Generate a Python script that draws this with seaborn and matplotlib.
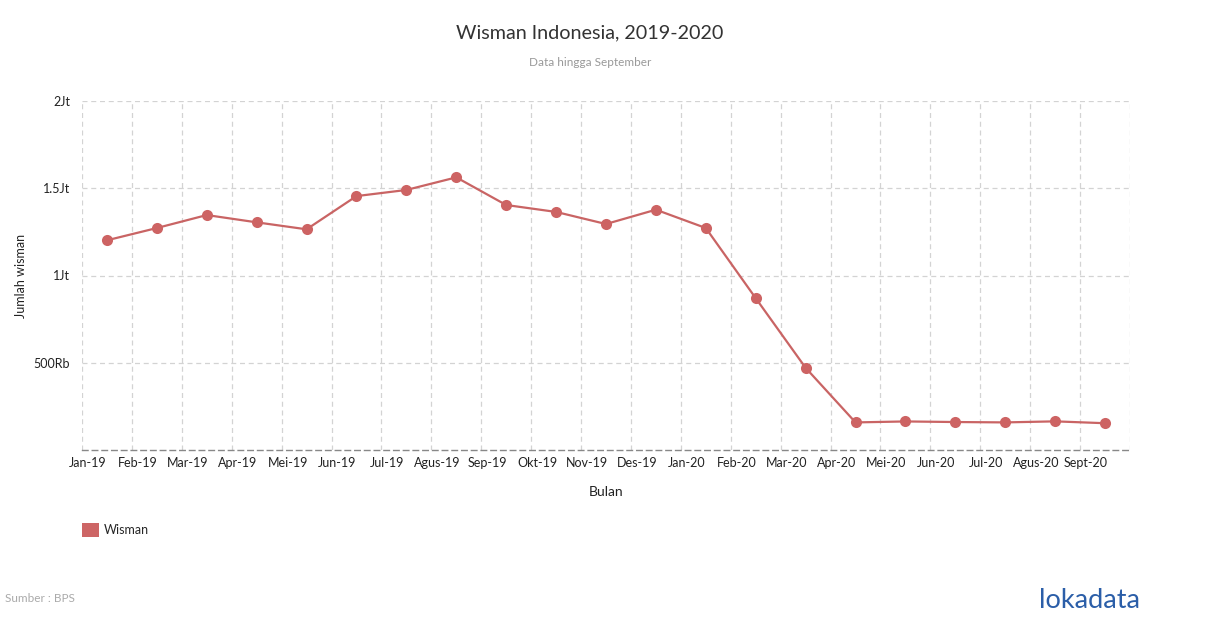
import matplotlib
matplotlib.use("Agg")
import matplotlib.pyplot as plt
import matplotlib.transforms as mtransforms
import seaborn as sns
import numpy as np
import pandas as pd
from matplotlib.patches import Patch

months = ["Jan-19", "Feb-19", "Mar-19", "Apr-19", "Mei-19", "Jun-19", "Jul-19",
          "Agus-19", "Sep-19", "Okt-19", "Nov-19", "Des-19", "Jan-20", "Feb-20",
          "Mar-20", "Apr-20", "Mei-20", "Jun-20", "Jul-20", "Agus-20", "Sept-20"]
wisman = [1201735, 1272083, 1346434, 1304645, 1264694, 1455020, 1490225,
          1562435, 1404006, 1364235, 1295002, 1377067, 1272083, 870000,
          470898, 158066, 163646, 160280, 158167, 164110, 153498]
ytick_vals = [500000, 1000000, 1500000, 2000000]
ytick_labels = ["500Rb", "1Jt", "1.5Jt", "2Jt"]

sns.set_theme(style="white")
plt.rcParams['font.family'] = ['Lato', 'DejaVu Sans']

df = pd.DataFrame({"pos": np.arange(len(months)) + 0.5, "Wisman": wisman})

fig = plt.figure(figsize=(12.1, 6.28), dpi=100)
ax = fig.add_axes([82/1210, (628-450)/628, (1130-82)/1210, (450-101)/628])

col = "#c96464"
sns.lineplot(data=df, x="pos", y="Wisman", ax=ax, color=col, linewidth=1.6,
             marker="o", markersize=8, markeredgewidth=0, markerfacecolor="#cd6363")

ax.set_xlim(0, len(months))
ax.set_ylim(0, 2000000)
ax.set_xticks(np.arange(len(months)))
ax.set_xticklabels(months, fontsize=9, color="#222222")
ax.set_yticks(ytick_vals)
ax.set_yticklabels(ytick_labels, fontsize=9, color="#222222")
ax.tick_params(axis="x", length=0, pad=5)
ax.tick_params(axis="y", length=0, pad=8.5)
offset = mtransforms.ScaledTranslation(6/100, 0, fig.dpi_scale_trans)
for lab in ax.get_xticklabels():
    lab.set_transform(lab.get_transform() + offset)
for s in ["top", "right", "left"]:
    ax.spines[s].set_visible(False)
ax.spines["bottom"].set_color("#888888")
ax.spines["bottom"].set_linestyle((0, (4, 3)))
ax.spines["bottom"].set_linewidth(1)
for x in range(len(months) + 1):
    ax.axvline(x, color="#d3d3d3", linestyle=(0, (4, 3)), linewidth=0.9, zorder=0)
for y in ytick_vals:
    ax.axhline(y, color="#d3d3d3", linestyle=(0, (4, 3)), linewidth=0.9, zorder=0)

ax.set_xlabel("Bulan", fontsize=10, color="#222222", labelpad=12)
ax.set_ylabel("Jumlah wisman", fontsize=9, color="#222222", labelpad=5)

fig.text(590/1210, 1 - 33/628, "Wisman Indonesia, 2019-2020", ha="center", va="center",
         fontsize=14.2, color="#333333")
fig.text(590/1210, 1 - 63/628, "Data hingga September", ha="center", va="center",
         fontsize=8.5, color="#999999")

fig.legend(handles=[Patch(facecolor="#cd6565", edgecolor="none", label="Wisman")],
           loc="center left", bbox_to_anchor=(71/1210, 1 - 530/628), frameon=False,
           fontsize=9, handlelength=1.3, handleheight=1.3, handletextpad=0.4)

fig.text(5/1210, 1 - 598/628, "Sumber : BPS", ha="left", va="center",
         fontsize=8.5, color="#aaaaaa")
fig.text(1140/1210, 1 - 600/628, "lokadata", ha="right", va="center",
         fontsize=19.5, color="#2b5ea8")

fig.savefig("out.png", dpi=100)
